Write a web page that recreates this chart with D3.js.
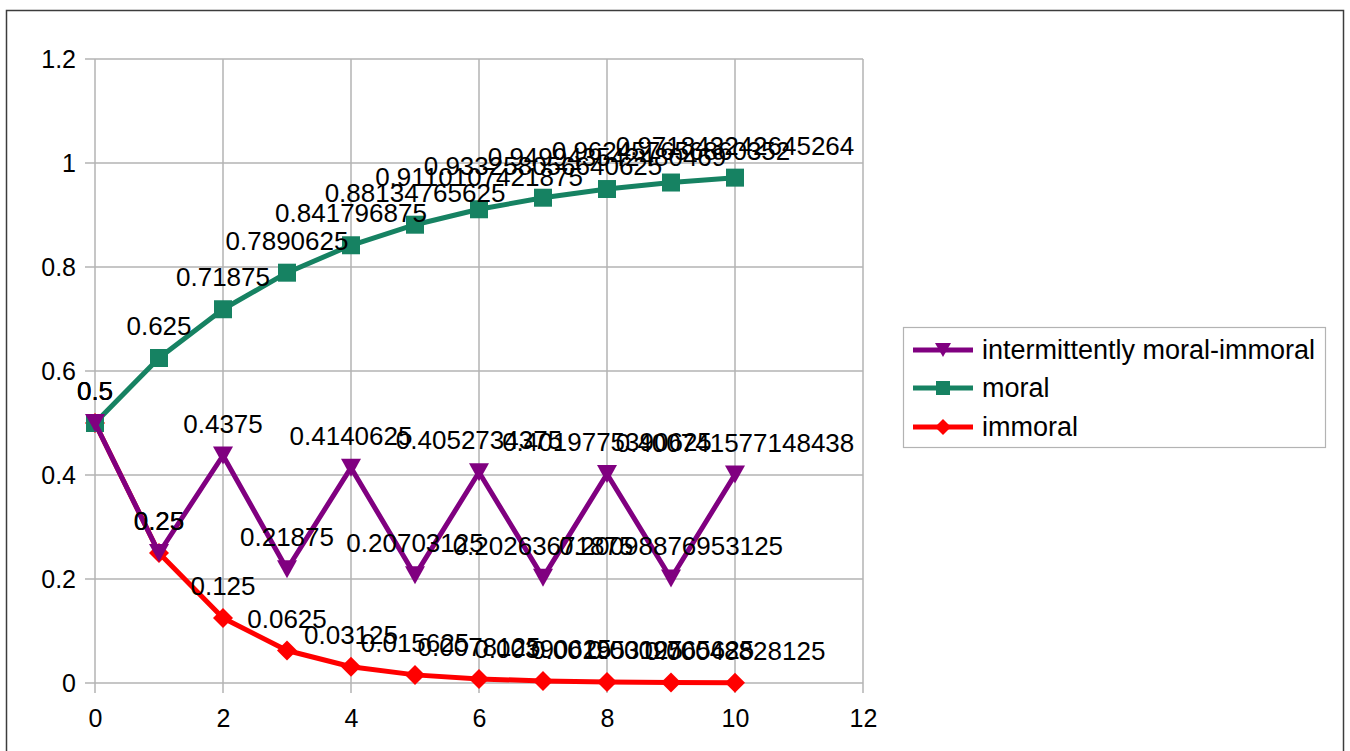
<!DOCTYPE html>
<html>
<head>
<meta charset="utf-8">
<script src="https://cdn.jsdelivr.net/npm/d3@7"></script>
<style>
html,body{margin:0;padding:0;background:#fff;}
svg{display:block;}
text{font-family:"Liberation Sans",Arial,sans-serif;fill:#000;}
</style>
</head>
<body>
<svg id="chart" width="1350" height="751"></svg>
<script>
const steps = [0,1,2,3,4,5,6,7,8,9,10];
const intermittent = [0.5,0.25,0.4375,0.21875,0.4140625,0.20703125,0.4052734375,0.20263671875,0.4019775390625,0.20098876953125,0.4007415771484375];
const moral = [0.5,0.625,0.71875,0.7890625,0.841796875,0.88134765625,0.9110107421875,0.933258056640625,0.94994354248046875,0.9624576568603516,0.9718432426452637];
const immoral = [0.5,0.25,0.125,0.0625,0.03125,0.015625,0.0078125,0.00390625,0.001953125,0.0009765625,0.00048828125];
const xTicks = [0,2,4,6,8,10,12];
const yTicks = [0,0.2,0.4,0.6,0.8,1,1.2];
const seriesNames = ["intermittently moral-immoral","moral","immoral"];
const seriesColors = ["#800080","#168262","#ff0000"];
const seriesSymbols = ["triangleDown","square","diamond"];
const seriesValues = [intermittent, moral, immoral];

const svg = d3.select("#chart");
// outer frame
svg.append("rect").attr("x",6.5).attr("y",10.5).attr("width",1337).attr("height",760)
  .attr("fill","none").attr("stroke","#3c3c3c").attr("stroke-width",1.5);

const x = d3.scaleLinear().domain([0,12]).range([95,863]);
const y = d3.scaleLinear().domain([0,1.2]).range([683,59]);

const grid = svg.append("g");
grid.selectAll(".gx").data(xTicks).join("line")
  .attr("x1",d=>x(d)).attr("x2",d=>x(d)).attr("y1",y(1.2)).attr("y2",y(0)+10)
  .attr("stroke","#b3b3b3").attr("stroke-width",1.5);
grid.selectAll(".gy").data(yTicks).join("line")
  .attr("y1",d=>y(d)).attr("y2",d=>y(d)).attr("x1",x(0)-10).attr("x2",x(12))
  .attr("stroke","#b3b3b3").attr("stroke-width",1.5);

const xAxis = d3.axisBottom(x).tickValues(xTicks).tickSize(0).tickPadding(0).tickFormat(d3.format("d"));
const gx = svg.append("g").attr("transform",`translate(0,${y(0)})`).call(xAxis);
gx.select(".domain").remove();
gx.selectAll("text").attr("dy",null).attr("y",44).style("font-size","25px").attr("font-family","Liberation Sans, Arial, sans-serif").attr("fill","#000");

const yAxis = d3.axisLeft(y).tickValues(yTicks).tickSize(0).tickPadding(0).tickFormat(d=>String(+d.toFixed(1)));
const gy = svg.append("g").attr("transform",`translate(${x(0)},0)`).call(yAxis);
gy.select(".domain").remove();
gy.selectAll("text").attr("x",-19).attr("dy","0.35em").style("font-size","25px").attr("font-family","Liberation Sans, Arial, sans-serif").attr("fill","#000");

function symbolPath(kind, s){
  const h = s/2;
  if(kind==="square") return `M${-h},${-h}H${h}V${h}H${-h}Z`;
  if(kind==="diamond") return `M0,${-h-1}L${h+1},0L0,${h+1}L${-h-1},0Z`;
  return `M${-h-1},${-h}L${h+1},${-h}L0,${h}Z`;
}

const line = d3.line().x((d,i)=>x(steps[i])).y(d=>y(d));
const fmt = v => String(Number(v.toPrecision(15)));

// draw in reverse legend order
const order = [2,1,0];
order.forEach(si=>{
  const vals = seriesValues[si];
  const g = svg.append("g");
  g.append("path").datum(vals).attr("d",line).attr("fill","none")
    .attr("stroke",seriesColors[si]).attr("stroke-width",5).attr("stroke-linejoin","round");
  g.selectAll("path.m").data(vals).join("path").attr("class","m")
    .attr("transform",(d,i)=>`translate(${x(steps[i])},${y(d)})`)
    .attr("d",symbolPath(seriesSymbols[si],18)).attr("fill",seriesColors[si]);
});
order.forEach(si=>{
  const vals = seriesValues[si];
  svg.append("g").selectAll("text").data(vals).join("text")
    .attr("x",(d,i)=>x(steps[i])).attr("y",d=>y(d)-23)
    .attr("text-anchor","middle").style("font-size","26px")
    .text(d=>fmt(d));
});

// legend
const lg = svg.append("g");
lg.append("rect").attr("x",903.5).attr("y",327.5).attr("width",422).attr("height",120)
  .attr("fill","#fff").attr("stroke","#b3b3b3").attr("stroke-width",1.2);
const rowsY = [350,388,427];
seriesNames.forEach((n,i)=>{
  lg.append("line").attr("x1",913).attr("x2",973).attr("y1",rowsY[i]).attr("y2",rowsY[i])
    .attr("stroke",seriesColors[i]).attr("stroke-width",5);
  lg.append("path").attr("transform",`translate(943,${rowsY[i]})`)
    .attr("d",symbolPath(seriesSymbols[i],14)).attr("fill",seriesColors[i]);
  lg.append("text").attr("x",982).attr("y",rowsY[i]).attr("dy","0.35em")
    .style("font-size","27px").text(n);
});
</script>
</body>
</html>
